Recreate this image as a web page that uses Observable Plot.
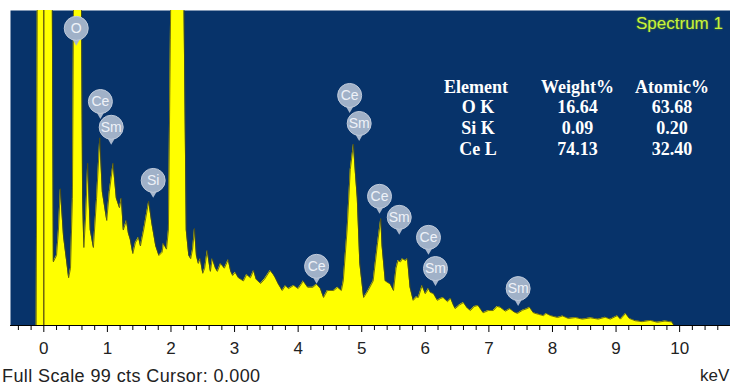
<!DOCTYPE html>
<html><head><meta charset="utf-8">
<script src="https://cdn.jsdelivr.net/npm/d3@7"></script>
<script src="https://cdn.jsdelivr.net/npm/@observablehq/plot@0.6"></script>
<style>
body{margin:0;background:#fff;font-family:"Liberation Sans",Arial,sans-serif;}
#wrap{position:relative;width:730px;height:385px;overflow:hidden;background:#fff;}
#chart svg{display:block;}
.tbl{position:absolute;color:#fff;font:bold 18px "Liberation Serif","Times New Roman",serif;line-height:18px;transform:translateX(-50%);white-space:nowrap;}
#spec{position:absolute;left:636px;top:14px;color:#c6f43c;font:17px "Liberation Sans",Arial,sans-serif;text-shadow:0 0 2px #6f8a1a;white-space:nowrap;}
#cap{position:absolute;left:2px;top:366px;height:20px;line-height:20px;font-size:18px;letter-spacing:0.4px;color:#222;white-space:nowrap;}
#kev{position:absolute;left:700px;top:366px;height:20px;line-height:20px;font-size:17px;color:#222;white-space:nowrap;}
</style></head><body>
<div id="wrap"><div id="chart"></div></div>
<script>
// Spectrum (keV, counts)
const energy = [-0.12,-0.10,0.13,0.15,0.20,0.23,0.26,0.31,0.36,0.39,0.42,0.45,0.47,0.53,0.59,0.61,0.63,0.66,0.69,0.73,0.78,0.83,0.88,0.92,0.99,1.03,1.09,1.14,1.19,1.22,1.25,1.30,1.33,1.36,1.40,1.44,1.49,1.52,1.57,1.65,1.70,1.76,1.81,1.86,1.88,1.93,1.96,1.99,2.02,2.18,2.21,2.24,2.28,2.31,2.34,2.37,2.40,2.43,2.46,2.50,2.53,2.57,2.62,2.65,2.70,2.73,2.78,2.84,2.90,2.94,2.97,3.01,3.06,3.14,3.19,3.25,3.30,3.34,3.41,3.47,3.56,3.61,3.64,3.69,3.75,3.80,3.85,3.93,4.00,4.05,4.08,4.15,4.23,4.29,4.35,4.40,4.46,4.56,4.62,4.68,4.71,4.77,4.82,4.87,4.90,4.93,4.97,5.03,5.07,5.10,5.18,5.25,5.30,5.32,5.37,5.45,5.50,5.54,5.57,5.61,5.64,5.69,5.72,5.76,5.81,5.86,5.89,5.95,6.00,6.05,6.08,6.13,6.19,6.24,6.28,6.35,6.40,6.44,6.47,6.54,6.60,6.66,6.71,6.77,6.83,6.91,6.99,7.07,7.13,7.18,7.26,7.33,7.40,7.45,7.53,7.60,7.64,7.70,7.78,7.86,7.90,7.97,8.08,8.16,8.25,8.36,8.47,8.60,8.72,8.83,8.91,9.02,9.07,9.15,9.21,9.30,9.41,9.54,9.65,9.77,9.88,9.91,10.8];
const counts = [0,120,120,20,22,30,43,28,20,15,18,40,110,150,110,40,24.5,35,51,30,24.5,40,59,42,33,42,51,40,37,40,30,33,29,27,22.6,26,27.7,25,30,39,32,25,22,23,25.8,24,30,90,150,150,90,30,22,21,24,30.5,22,19.5,21,16.4,18,23.6,17,21,18,17,19.5,18,20.7,17,15.7,16.7,15,14,16,15,17.3,14.5,13.2,14.5,17.3,16,15,13,11,12.5,11.6,12.6,11.6,13,14,12,12,13,11.6,8.8,11,11,12,11,14,30,49,57,48,40,19.5,8.8,10,11,14,26,33.6,25,14,13,11,18,20.4,20,21,20.4,21,12,7.9,9,8.8,12.6,10,11.6,10.4,10,7.9,8.5,8.8,7.5,8.5,6.5,5.3,6.5,7.2,5.5,4.7,6,6.3,4,4.7,4.7,6,5.7,4.5,5.3,4.2,3.8,4.8,5.3,5.7,4,3.5,3.1,3.8,3.1,2.5,3,2.2,2.5,2,2.4,2,2.6,2,3.1,2,3.8,2.2,1.5,1.2,1.6,1.0,1.4,1.1,0,0];

// Peak identification badges
const peakEl  = ["O","Ce","Sm","Si","Ce","Sm","Ce","Sm","Ce","Sm","Ce","Sm"];
const peakKeV = [0.51,0.89,1.06,1.72,4.81,4.96,5.28,5.59,6.05,6.16,4.29,7.46];
const peakCts = [93.4,70.4,62.3,45.6,72.3,63.5,40.6,34.0,27.7,17.9,18.6,11.6];

// Quantification table
const tableHeader  = ["Element","Weight%","Atomic%"];
const tableElement = ["O K","Si K","Ce L"];
const tableWeight  = ["16.64","0.09","74.13"];
const tableAtomic  = ["63.68","0.20","32.40"];

const majorTicks = [0,1,2,3,4,5,6,7,8,9,10];
const minorTicks = d3.range(-2, 55).map(i => +(i * 0.2).toFixed(1)).filter(v => !Number.isInteger(v));
const fullScale = 99;

const spectrum = energy.map((e, i) => ({e, c: counts[i]}));
const peaks = peakEl.map((el, i) => ({el, e: peakKeV[i], c: peakCts[i]}));

const plot = Plot.plot({
  width: 730, height: 365,
  marginTop: 10, marginLeft: 10, marginRight: 0, marginBottom: 40,
  style: {background: "#fff", fontFamily: "Liberation Sans, Arial, sans-serif"},
  x: {domain: [-0.524, 10.8], label: null},
  y: {domain: [0, fullScale], axis: null},
  marks: [
    Plot.frame({fill: "#07336a", stroke: null}),
    Plot.areaY(spectrum, {x: "e", y: "c", fill: "#ffff00", clip: true}),
    Plot.lineY(spectrum, {x: "e", y: "c", stroke: "#4d4d14", strokeWidth: 0.8, clip: true}),
    Plot.ruleX([0], {y1: 0, y2: fullScale, stroke: "#4a3c12", strokeWidth: 1.2}),
    Plot.ruleY([0], {stroke: "#000", strokeWidth: 1.2}),
    Plot.axisX({ticks: minorTicks, tickSize: 5, tickFormat: () => "", stroke: "#000", label: null}),
    Plot.axisX({ticks: majorTicks, tickSize: 7, tickPadding: 9, fontSize: 17, fill: "#222", stroke: "#000", label: null}),
    Plot.dot(peaks, {x: "e", y: "c", symbol: "triangle", rotate: 180, r: 3.5, dy: 12, fill: "#a9b8cd"}),
    Plot.dot(peaks, {x: "e", y: "c", r: 12, fill: "#a0b1c8", stroke: "#c0cbdb", strokeWidth: 1}),
    Plot.text(peaks, {x: "e", y: "c", text: "el", fill: "#eef2f8", fontSize: 14})
  ]
});
document.getElementById("chart").append(plot);

const wrap = document.getElementById("wrap");
function addText(txt, cls, cx, cy) {
  const d = document.createElement("div");
  d.className = cls; d.textContent = txt;
  d.style.left = cx + "px"; d.style.top = (cy - 9) + "px";
  wrap.append(d);
}
const colX = [476, 577.5, 672];
const rowY = [87, 107, 128, 149];
tableHeader.forEach((t, j) => addText(t, "tbl", colX[j], rowY[0]));
tableElement.forEach((t, i) => {
  addText(t, "tbl", colX[0] + 2, rowY[i + 1]);
  addText(tableWeight[i], "tbl", colX[1], rowY[i + 1]);
  addText(tableAtomic[i], "tbl", colX[2], rowY[i + 1]);
});
const spec = document.createElement("div"); spec.id = "spec"; spec.textContent = "Spectrum 1"; wrap.append(spec);
const cap = document.createElement("div"); cap.id = "cap"; cap.textContent = `Full Scale ${fullScale} cts Cursor: 0.000`; wrap.append(cap);
const kev = document.createElement("div"); kev.id = "kev"; kev.textContent = "keV"; wrap.append(kev);
</script>
</body></html>
